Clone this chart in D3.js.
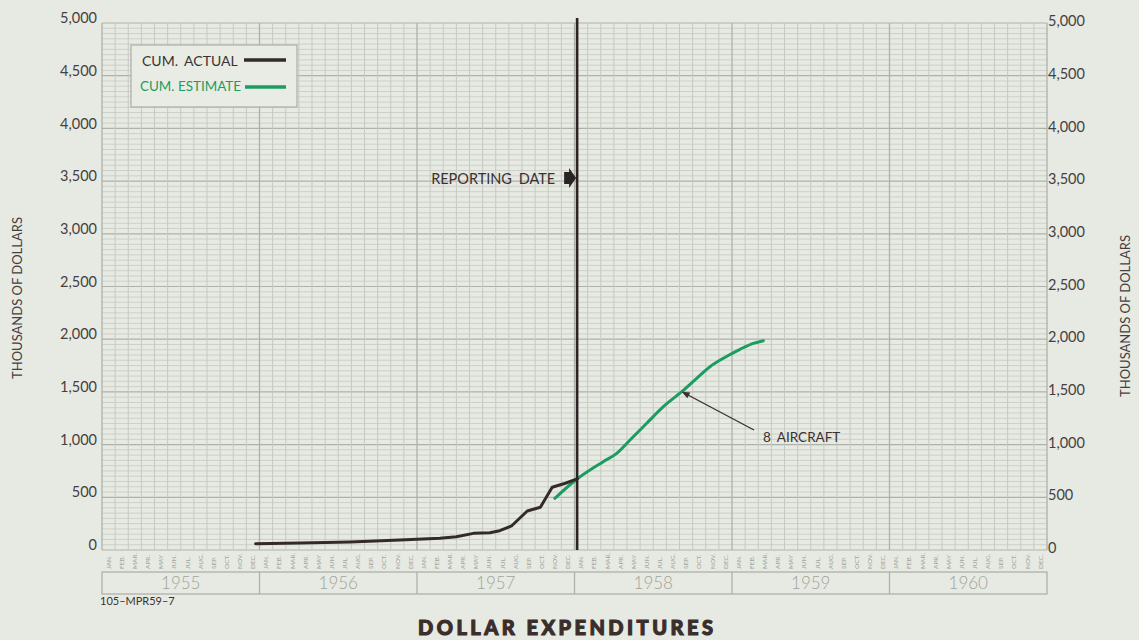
<!DOCTYPE html>
<html>
<head>
<meta charset="utf-8">
<script src="https://cdn.jsdelivr.net/npm/d3@7"></script>
<style>
  html, body { margin: 0; padding: 0; background: #e7eae2; }
  svg { display: block; }
</style>
</head>
<body>
<svg id="chart" width="1139" height="640"></svg>
<script>
// ---- data -------------------------------------------------------------
// month positions are counted in months from the start of January 1955
const years = ["1955", "1956", "1957", "1958", "1959", "1960"];
const monthNames = ["JAN.", "FEB.", "MAR.", "APR.", "MAY", "JUN.", "JUL.", "AUG.", "SEP.", "OCT.", "NOV.", "DEC."];
const yTicks = [0, 500, 1000, 1500, 2000, 2500, 3000, 3500, 4000, 4500, 5000];

// cumulative actual expenditures (thousands of dollars)
const actualMonths = [11.7, 15.1, 18.9, 22.7, 25.75, 27.0, 28.3, 29.55, 30.3, 31.2, 32.4, 33.4, 34.3, 35.3, 36.2];
const actualValues = [60, 66, 76, 95, 111, 126, 158, 164, 183, 228, 370, 405, 595, 633, 674];

// cumulative estimate (thousands of dollars)
const estimateMonths = [34.5, 36.17, 38.19, 39.22, 40.23, 41.5, 42.77, 44.17, 45.31, 46.32, 47.34, 48.61, 49.62, 50.39];
const estimateValues = [490, 671, 838, 917, 1044, 1202, 1360, 1502, 1629, 1739, 1819, 1904, 1961, 1986];

const reportingMonth = 36.2;
const aircraftMonth = 44.17;
const aircraftValue = 1502;

// ---- layout -----------------------------------------------------------
const svg = d3.select("#chart");
const W = 1139, H = 640;
const plotLeft = 102, plotRight = 1047, plotTop = 23, plotBottom = 550;

const x = d3.scaleLinear().domain([0, 72]).range([plotLeft, plotRight]);
const y = d3.scaleLinear().domain([0, 5000]).range([plotBottom, plotTop]);

const ink = "#3a3232";
const gridMinor = "#c6c9c1";
const gridMajor = "#aeb1a9";
const paleText = "#a0a39c";
const green = "#1c9c60";
const font = "Lato, 'Open Sans', sans-serif";

svg.append("rect").attr("width", W).attr("height", H).attr("fill", "#e7eae2");

// ---- grid -------------------------------------------------------------
const grid = svg.append("g");
grid.selectAll("line.h")
  .data(d3.range(0, 5001, 50))
  .join("line")
  .attr("x1", plotLeft).attr("x2", plotRight)
  .attr("y1", d => y(d)).attr("y2", d => y(d))
  .attr("stroke", d => d % 500 === 0 ? gridMajor : gridMinor)
  .attr("stroke-width", d => d % 500 === 0 ? 1.2 : 0.8);

grid.selectAll("line.v")
  .data(d3.range(0, 73))
  .join("line")
  .attr("x1", d => x(d)).attr("x2", d => x(d))
  .attr("y1", plotTop).attr("y2", plotBottom)
  .attr("stroke", d => d % 12 === 0 ? gridMajor : gridMinor)
  .attr("stroke-width", d => d % 12 === 0 ? 1.3 : 1);

// ---- y axes -----------------------------------------------------------
const fmt = d3.format(",");
const yLeft = d3.axisLeft(y).tickValues(yTicks).tickFormat(fmt).tickSize(0).tickPadding(5);
const yRight = d3.axisRight(y).tickValues(yTicks).tickFormat(fmt).tickSize(0).tickPadding(1);

const gl = svg.append("g").attr("transform", `translate(${plotLeft},-5)`).call(yLeft);
const gr = svg.append("g").attr("transform", `translate(${plotRight},-2)`).call(yRight);
[gl, gr].forEach(g => {
  g.select(".domain").remove();
  g.selectAll("text")
    .attr("font-family", font)
    .attr("font-size", 14.5)
    .attr("fill", "#463f3f");
});

svg.append("text")
  .attr("transform", "translate(22,298) rotate(-90)")
  .attr("text-anchor", "middle")
  .attr("font-family", font).attr("font-size", 13)
  .attr("fill", "#463f3f")
  .text("THOUSANDS OF DOLLARS");

svg.append("text")
  .attr("transform", "translate(1130,316) rotate(-90)")
  .attr("text-anchor", "middle")
  .attr("font-family", font).attr("font-size", 13)
  .attr("fill", "#463f3f")
  .text("THOUSANDS OF DOLLARS");

// ---- month and year labels ---------------------------------------------
const monthLabels = d3.range(72).map(i => ({ i, name: monthNames[i % 12] }));
svg.append("g").selectAll("text")
  .data(monthLabels)
  .join("text")
  .attr("transform", d => `translate(${x(d.i + 0.5)},569) rotate(-90)`)
  .attr("dy", "0.35em")
  .attr("font-family", font).attr("font-size", 6.5)
  .attr("fill", paleText)
  .text(d => d.name);

const yearTop = 572, yearBottom = 594;
const yearG = svg.append("g");
yearG.append("rect")
  .attr("x", plotLeft).attr("y", yearTop)
  .attr("width", plotRight - plotLeft).attr("height", yearBottom - yearTop)
  .attr("fill", "none").attr("stroke", gridMajor).attr("stroke-width", 1.3);
yearG.selectAll("line")
  .data(d3.range(1, years.length))
  .join("line")
  .attr("x1", d => x(d * 12)).attr("x2", d => x(d * 12))
  .attr("y1", yearTop).attr("y2", yearBottom)
  .attr("stroke", gridMajor).attr("stroke-width", 1.3);
yearG.selectAll("text")
  .data(years)
  .join("text")
  .attr("x", (d, i) => x(i * 12 + 6))
  .attr("y", (yearTop + yearBottom) / 2)
  .attr("dy", "0.36em")
  .attr("text-anchor", "middle")
  .attr("font-family", font).attr("font-size", 17).attr("font-weight", 300)
  .attr("fill", paleText)
  .text(d => d);

// ---- series -----------------------------------------------------------
const actual = actualMonths.map((m, i) => [m, actualValues[i]]);
const estimate = estimateMonths.map((m, i) => [m, estimateValues[i]]);

svg.append("path")
  .datum(estimate)
  .attr("d", d3.line().x(d => x(d[0])).y(d => y(d[1])).curve(d3.curveMonotoneX))
  .attr("fill", "none").attr("stroke", green).attr("stroke-width", 3)
  .attr("stroke-linecap", "round");

svg.append("path")
  .datum(actual)
  .attr("d", d3.line().x(d => x(d[0])).y(d => y(d[1])).curve(d3.curveLinear))
  .attr("fill", "none").attr("stroke", "#342a29").attr("stroke-width", 3)
  .attr("stroke-linejoin", "round").attr("stroke-linecap", "round");

// reporting date marker
const rx = x(reportingMonth);
svg.append("line")
  .attr("x1", rx).attr("x2", rx).attr("y1", 18).attr("y2", plotBottom)
  .attr("stroke", "#2b2424").attr("stroke-width", 2.6);
svg.append("text")
  .attr("x", rx - 146).attr("y", 184)
  .attr("font-family", font).attr("font-size", 14.5)
  .attr("fill", ink)
  .attr("word-spacing", 3)
  .text("REPORTING DATE");
svg.append("path")
  .attr("d", `M${rx - 13},172 L${rx - 8},172 L${rx - 8},168 L${rx - 1},178 L${rx - 8},188 L${rx - 8},184 L${rx - 13},184 Z`)
  .attr("fill", "#2b2424");

// aircraft annotation
const ax = x(aircraftMonth), ay = y(aircraftValue);
const sx = 754, sy = 430;
const ang = Math.atan2(ay - sy, ax - sx);
svg.append("line")
  .attr("x1", sx).attr("y1", sy)
  .attr("x2", ax - Math.cos(ang) * 6).attr("y2", ay - Math.sin(ang) * 6)
  .attr("stroke", ink).attr("stroke-width", 1.4);
const hl = 8, hw = 3.2;
const bx = ax - Math.cos(ang) * hl, by = ay - Math.sin(ang) * hl;
svg.append("path")
  .attr("d", `M${ax},${ay} L${bx + Math.sin(ang) * hw},${by - Math.cos(ang) * hw} L${bx - Math.sin(ang) * hw},${by + Math.cos(ang) * hw} Z`)
  .attr("fill", ink);
svg.append("text")
  .attr("x", 763).attr("y", 442)
  .attr("font-family", font).attr("font-size", 13.5)
  .attr("fill", ink)
  .attr("word-spacing", 3)
  .text("8 AIRCRAFT");

// ---- legend -----------------------------------------------------------
const lg = svg.append("g");
lg.append("rect")
  .attr("x", 131).attr("y", 45).attr("width", 166).attr("height", 62)
  .attr("fill", "#e9ece5").attr("stroke", "#b0b3ab").attr("stroke-width", 1.3);
lg.append("text")
  .attr("x", 142).attr("y", 66)
  .attr("font-family", font).attr("font-size", 14)
  .attr("fill", ink).attr("word-spacing", 3)
  .text("CUM. ACTUAL");
lg.append("line")
  .attr("x1", 244).attr("x2", 286).attr("y1", 60).attr("y2", 60)
  .attr("stroke", "#342a29").attr("stroke-width", 3.5);
lg.append("text")
  .attr("x", 140).attr("y", 91)
  .attr("font-family", font).attr("font-size", 13.5)
  .attr("fill", green)
  .attr("textLength", 101).attr("lengthAdjust", "spacingAndGlyphs")
  .text("CUM. ESTIMATE");
lg.append("line")
  .attr("x1", 245).attr("x2", 286).attr("y1", 87).attr("y2", 87)
  .attr("stroke", green).attr("stroke-width", 3.5);

// ---- footer -----------------------------------------------------------
svg.append("text")
  .attr("x", 100).attr("y", 605)
  .attr("font-family", font).attr("font-size", 11)
  .attr("fill", ink)
  .text("105–MPR59–7");

svg.append("text")
  .attr("x", 418).attr("y", 635)
  .attr("font-family", font).attr("font-size", 20).attr("font-weight", 900)
  .attr("fill", "#3a2e2c")
  .attr("stroke", "#3a2e2c").attr("stroke-width", 1.1)
  .attr("textLength", 295).attr("lengthAdjust", "spacing")
  .text("DOLLAR EXPENDITURES");
</script>
</body>
</html>
